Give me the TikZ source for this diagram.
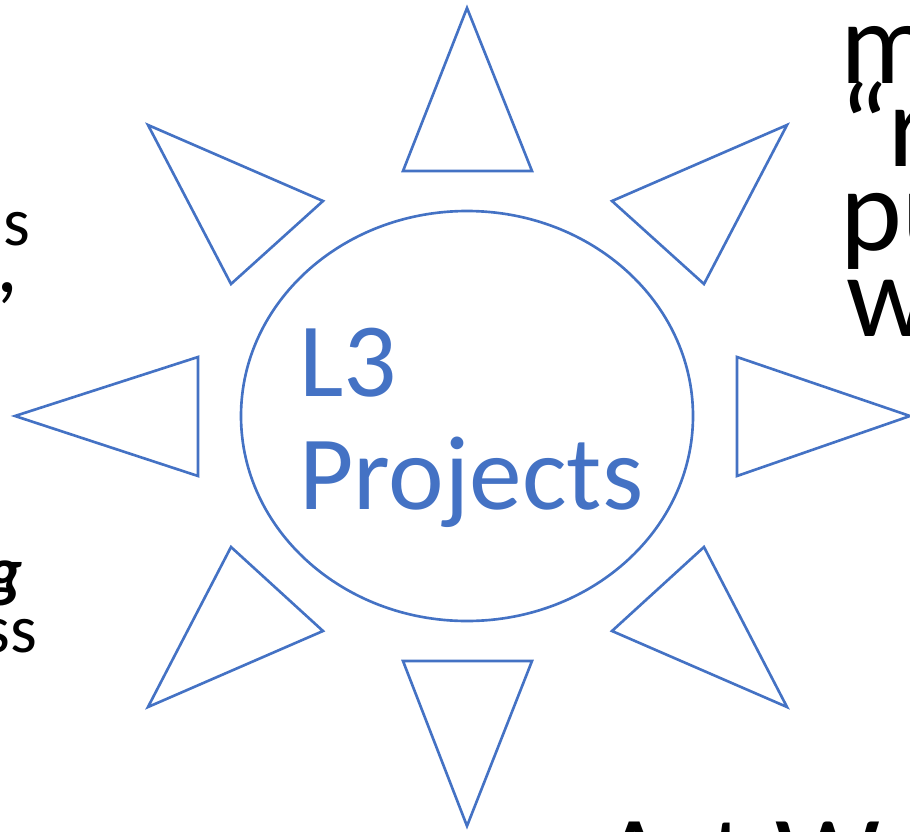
\documentclass[tikz,border=0pt]{standalone}
\usepackage{fontspec}
\setmainfont{Carlito}
\definecolor{accent}{HTML}{4472C4}
\tikzset{
  ray/.style={draw=accent, line width=1.5pt, line join=miter},
  big/.style={anchor=base west, inner sep=0, font=\fontsize{67}{67}\selectfont},
  small/.style={anchor=base west, inner sep=0, font=\fontsize{39}{39}\selectfont},
  title/.style={anchor=base west, inner sep=0, text=accent, font=\fontsize{60}{60}\selectfont}
}
\begin{document}
\begin{tikzpicture}[x=0.02cm, y=-0.02cm]
  \useasboundingbox (0,0) rectangle (910,832);
  \clip (0,0) rectangle (910,832);
  % the sun
  \draw[ray] (467,416) ellipse [x radius=226, y radius=205];
  \node[title] (l3) at (299,396) {L3};
  \node[title] (proj) at (299,509) {Projects};
  % the rays
  \foreach \ax/\ay/\bx/\by/\cx/\cy in {467/8/403/171/532/171,
                                      467/826/403/661/532/661,
                                      15/416/198/357/198/476,
                                      910/416/737/357/737/476,
                                      148/125/323/201/231/284,
                                      148/707/323/631/231/547,
                                      787/125/612/201/704/284,
                                      787/707/612/631/704/547}
    \draw[ray] (\ax,\ay) -- (\bx,\by) -- (\cx,\cy) -- cycle;
  % cut-off texts, left
  \node[small] (ls) at (3,245) {s};
  \node[small, font=\fontsize{50}{50}\selectfont] (lcomma) at (-4,292) {,};
  \node[small] (lg) at (-14,594) {\textbf{\textit{g}}};
  \node[small] (lss) at (-17,652) {ss};
  % cut-off texts, right
  \node[big] (rm) at (840,83) {m};
  \node[big] (rq) at (839,166) {“r};
  \node[big] (rp) at (840,250) {pu};
  \node[big] (rw) at (846,336) {w};
  % cut-off text, bottom
  \node[big] (art) at (600,897) {Art W};
\end{tikzpicture}
\end{document}
